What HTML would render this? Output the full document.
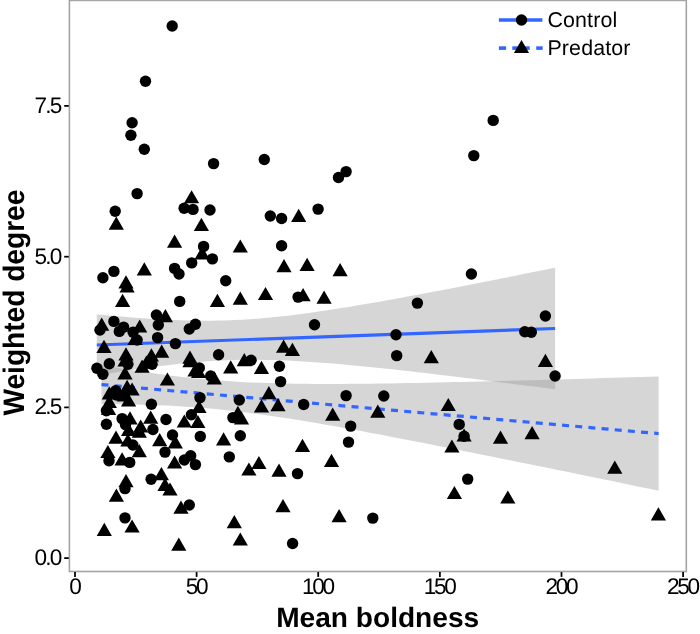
<!DOCTYPE html>
<html><head><meta charset="utf-8"><title>Weighted degree vs mean boldness</title>
<style>html,body{margin:0;padding:0;background:#fff}body{width:700px;height:634px;position:relative;overflow:hidden}</style></head>
<body>
<svg width="700" height="634" viewBox="0 0 700 634" text-rendering="geometricPrecision" style="position:absolute;left:0;top:0">
<rect width="700" height="634" fill="#fff"/>
<path d="M96.8,314.4 L104.4,315.1 L112.1,315.8 L119.7,316.5 L127.4,317.1 L135.0,317.7 L142.6,318.3 L150.3,318.8 L157.9,319.3 L165.5,319.7 L173.2,320.0 L180.8,320.3 L188.5,320.5 L196.1,320.7 L203.7,320.7 L211.4,320.7 L219.0,320.6 L226.7,320.4 L234.3,320.1 L241.9,319.7 L249.6,319.2 L257.2,318.7 L264.8,318.0 L272.5,317.3 L280.1,316.5 L287.8,315.7 L295.4,314.7 L303.0,313.7 L310.7,312.7 L318.3,311.6 L325.9,310.5 L333.6,309.3 L341.2,308.1 L348.9,306.9 L356.5,305.6 L364.1,304.3 L371.8,303.0 L379.4,301.7 L387.1,300.3 L394.7,298.9 L402.3,297.5 L410.0,296.1 L417.6,294.7 L425.2,293.3 L432.9,291.8 L440.5,290.4 L448.2,288.9 L455.8,287.4 L463.4,285.9 L471.1,284.4 L478.7,282.9 L486.4,281.4 L494.0,279.9 L501.6,278.4 L509.3,276.9 L516.9,275.4 L524.5,273.8 L532.2,272.3 L539.8,270.8 L547.5,269.2 L555.1,267.7 L555.1,389.3 L547.5,388.3 L539.8,387.3 L532.2,386.3 L524.5,385.4 L516.9,384.4 L509.3,383.4 L501.6,382.4 L494.0,381.5 L486.4,380.5 L478.7,379.6 L471.1,378.6 L463.4,377.7 L455.8,376.7 L448.2,375.8 L440.5,374.9 L432.9,374.0 L425.2,373.1 L417.6,372.2 L410.0,371.3 L402.3,370.5 L394.7,369.6 L387.1,368.8 L379.4,368.0 L371.8,367.2 L364.1,366.4 L356.5,365.7 L348.9,365.0 L341.2,364.3 L333.6,363.6 L325.9,363.0 L318.3,362.4 L310.7,361.9 L303.0,361.4 L295.4,361.0 L287.8,360.6 L280.1,360.3 L272.5,360.0 L264.8,359.9 L257.2,359.8 L249.6,359.8 L241.9,359.8 L234.3,360.0 L226.7,360.3 L219.0,360.6 L211.4,361.0 L203.7,361.6 L196.1,362.2 L188.5,362.9 L180.8,363.6 L173.2,364.5 L165.5,365.4 L157.9,366.3 L150.3,367.3 L142.6,368.4 L135.0,369.5 L127.4,370.7 L119.7,371.8 L112.1,373.1 L104.4,374.3 L96.8,375.6Z" fill="#999" fill-opacity="0.4"/>
<path d="M101.5,365.1 L110.8,366.6 L120.1,368.2 L129.4,369.7 L138.6,371.1 L147.9,372.5 L157.2,373.8 L166.5,375.0 L175.8,376.2 L185.1,377.2 L194.3,378.2 L203.6,379.1 L212.9,380.0 L222.2,380.7 L231.5,381.3 L240.8,381.9 L250.1,382.4 L259.3,382.8 L268.6,383.1 L277.9,383.3 L287.2,383.6 L296.5,383.7 L305.8,383.8 L315.1,383.9 L324.3,383.9 L333.6,383.9 L342.9,383.9 L352.2,383.8 L361.5,383.8 L370.8,383.7 L380.1,383.5 L389.3,383.4 L398.6,383.3 L407.9,383.1 L417.2,382.9 L426.5,382.7 L435.8,382.5 L445.0,382.3 L454.3,382.1 L463.6,381.9 L472.9,381.7 L482.2,381.5 L491.5,381.2 L500.8,381.0 L510.0,380.7 L519.3,380.5 L528.6,380.2 L537.9,380.0 L547.2,379.7 L556.5,379.5 L565.8,379.2 L575.0,378.9 L584.3,378.7 L593.6,378.4 L602.9,378.1 L612.2,377.8 L621.5,377.5 L630.7,377.3 L640.0,377.0 L649.3,376.7 L658.6,376.4 L658.6,490.7 L649.3,488.8 L640.0,486.9 L630.7,485.0 L621.5,483.1 L612.2,481.1 L602.9,479.2 L593.6,477.3 L584.3,475.4 L575.0,473.5 L565.8,471.6 L556.5,469.7 L547.2,467.8 L537.9,465.9 L528.6,464.0 L519.3,462.2 L510.0,460.3 L500.8,458.4 L491.5,456.5 L482.2,454.7 L472.9,452.8 L463.6,450.9 L454.3,449.1 L445.0,447.2 L435.8,445.4 L426.5,443.6 L417.2,441.8 L407.9,440.0 L398.6,438.2 L389.3,436.4 L380.1,434.6 L370.8,432.9 L361.5,431.1 L352.2,429.4 L342.9,427.7 L333.6,426.1 L324.3,424.4 L315.1,422.8 L305.8,421.3 L296.5,419.8 L287.2,418.3 L277.9,416.9 L268.6,415.5 L259.3,414.2 L250.1,413.0 L240.8,411.8 L231.5,410.7 L222.2,409.7 L212.9,408.8 L203.6,408.0 L194.3,407.3 L185.1,406.7 L175.8,406.1 L166.5,405.6 L157.2,405.2 L147.9,404.9 L138.6,404.6 L129.4,404.4 L120.1,404.3 L110.8,404.2 L101.5,404.1Z" fill="#999" fill-opacity="0.4"/>
<line x1="96.8" y1="345.0" x2="555.1" y2="328.5" stroke="#3366ff" stroke-width="3.2"/>
<line x1="101.5" y1="384.6" x2="658.6" y2="433.6" stroke="#3366ff" stroke-width="3.2" stroke-dasharray="7 6.21"/>
<g fill="#000">
<circle cx="172.2" cy="26.0" r="5.7"/>
<circle cx="145.5" cy="81.3" r="5.7"/>
<circle cx="132.1" cy="122.8" r="5.7"/>
<circle cx="130.9" cy="135.2" r="5.7"/>
<circle cx="144.3" cy="149.3" r="5.7"/>
<circle cx="137.1" cy="193.6" r="5.7"/>
<circle cx="115.2" cy="211.3" r="5.7"/>
<circle cx="184.1" cy="208.2" r="5.7"/>
<circle cx="193.0" cy="209.4" r="5.7"/>
<circle cx="102.9" cy="277.7" r="5.7"/>
<circle cx="113.9" cy="271.4" r="5.7"/>
<circle cx="174.6" cy="268.4" r="5.7"/>
<circle cx="179.0" cy="274.0" r="5.7"/>
<circle cx="213.6" cy="163.6" r="5.7"/>
<circle cx="264.3" cy="159.5" r="5.7"/>
<circle cx="210.0" cy="210.0" r="5.7"/>
<circle cx="270.3" cy="216.0" r="5.7"/>
<circle cx="203.6" cy="246.4" r="5.7"/>
<circle cx="212.4" cy="258.9" r="5.7"/>
<circle cx="191.7" cy="262.9" r="5.7"/>
<circle cx="225.7" cy="280.7" r="5.7"/>
<circle cx="179.7" cy="301.4" r="5.7"/>
<circle cx="113.9" cy="321.4" r="5.7"/>
<circle cx="123.6" cy="327.1" r="5.7"/>
<circle cx="119.3" cy="331.4" r="5.7"/>
<circle cx="100.0" cy="330.0" r="5.7"/>
<circle cx="156.4" cy="315.0" r="5.7"/>
<circle cx="158.3" cy="325.0" r="5.7"/>
<circle cx="157.6" cy="337.6" r="5.7"/>
<circle cx="133.1" cy="332.1" r="5.7"/>
<circle cx="137.1" cy="340.0" r="5.7"/>
<circle cx="175.4" cy="343.6" r="5.7"/>
<circle cx="109.3" cy="363.8" r="5.7"/>
<circle cx="96.9" cy="368.3" r="5.7"/>
<circle cx="102.9" cy="374.3" r="5.7"/>
<circle cx="151.4" cy="404.3" r="5.7"/>
<circle cx="127.9" cy="364.3" r="5.7"/>
<circle cx="152.1" cy="364.3" r="5.7"/>
<circle cx="115.7" cy="390.7" r="5.7"/>
<circle cx="116.4" cy="395.0" r="5.7"/>
<circle cx="106.4" cy="424.3" r="5.7"/>
<circle cx="166.0" cy="419.5" r="5.7"/>
<circle cx="122.1" cy="418.6" r="5.7"/>
<circle cx="125.5" cy="424.6" r="5.7"/>
<circle cx="152.9" cy="429.5" r="5.7"/>
<circle cx="106.4" cy="410.7" r="5.7"/>
<circle cx="172.5" cy="435.0" r="5.7"/>
<circle cx="132.9" cy="445.0" r="5.7"/>
<circle cx="165.0" cy="452.1" r="5.7"/>
<circle cx="109.0" cy="460.7" r="5.7"/>
<circle cx="129.7" cy="462.4" r="5.7"/>
<circle cx="151.1" cy="479.2" r="5.7"/>
<circle cx="125.0" cy="488.6" r="5.7"/>
<circle cx="125.0" cy="517.9" r="5.7"/>
<circle cx="195.4" cy="324.3" r="5.7"/>
<circle cx="189.3" cy="329.0" r="5.7"/>
<circle cx="218.6" cy="354.7" r="5.7"/>
<circle cx="251.1" cy="360.3" r="5.7"/>
<circle cx="199.3" cy="367.9" r="5.7"/>
<circle cx="210.7" cy="376.0" r="5.7"/>
<circle cx="200.0" cy="397.6" r="5.7"/>
<circle cx="239.3" cy="400.0" r="5.7"/>
<circle cx="191.4" cy="414.7" r="5.7"/>
<circle cx="232.9" cy="417.6" r="5.7"/>
<circle cx="200.3" cy="436.4" r="5.7"/>
<circle cx="240.3" cy="435.7" r="5.7"/>
<circle cx="190.7" cy="455.7" r="5.7"/>
<circle cx="184.3" cy="460.0" r="5.7"/>
<circle cx="195.4" cy="464.6" r="5.7"/>
<circle cx="229.3" cy="456.9" r="5.7"/>
<circle cx="189.3" cy="505.0" r="5.7"/>
<circle cx="346.1" cy="171.6" r="5.7"/>
<circle cx="338.5" cy="177.5" r="5.7"/>
<circle cx="318.1" cy="209.1" r="5.7"/>
<circle cx="281.6" cy="218.5" r="5.7"/>
<circle cx="281.6" cy="245.7" r="5.7"/>
<circle cx="314.5" cy="324.7" r="5.7"/>
<circle cx="298.1" cy="297.1" r="5.7"/>
<circle cx="396.0" cy="334.7" r="5.7"/>
<circle cx="396.7" cy="355.6" r="5.7"/>
<circle cx="279.4" cy="366.3" r="5.7"/>
<circle cx="280.6" cy="381.6" r="5.7"/>
<circle cx="303.7" cy="404.5" r="5.7"/>
<circle cx="346.1" cy="395.6" r="5.7"/>
<circle cx="383.8" cy="396.0" r="5.7"/>
<circle cx="350.7" cy="426.1" r="5.7"/>
<circle cx="348.5" cy="442.1" r="5.7"/>
<circle cx="297.5" cy="473.6" r="5.7"/>
<circle cx="372.8" cy="518.1" r="5.7"/>
<circle cx="292.6" cy="543.5" r="5.7"/>
<circle cx="493.2" cy="120.4" r="5.7"/>
<circle cx="473.8" cy="155.6" r="5.7"/>
<circle cx="471.4" cy="274.0" r="5.7"/>
<circle cx="417.4" cy="303.1" r="5.7"/>
<circle cx="524.8" cy="331.8" r="5.7"/>
<circle cx="531.3" cy="332.3" r="5.7"/>
<circle cx="545.4" cy="316.0" r="5.7"/>
<circle cx="555.1" cy="376.0" r="5.7"/>
<circle cx="459.2" cy="424.4" r="5.7"/>
<circle cx="464.1" cy="436.3" r="5.7"/>
<circle cx="467.7" cy="479.1" r="5.7"/>
<path d="M191.6,190.2L199.2,203.3L184.0,203.3ZM116.3,216.6L123.9,229.7L108.7,229.7ZM174.6,234.6L182.2,247.7L167.0,247.7ZM144.3,262.2L151.9,275.4L136.7,275.4ZM126.0,275.2L133.6,288.4L118.4,288.4ZM127.1,279.4L134.7,292.6L119.5,292.6ZM201.4,217.8L209.0,231.0L193.8,231.0ZM240.3,239.4L247.9,252.6L232.7,252.6ZM202.1,246.2L209.7,259.4L194.5,259.4ZM217.4,293.8L225.0,306.9L209.8,306.9ZM240.3,291.6L247.9,304.7L232.7,304.7ZM265.5,286.9L273.1,300.0L257.9,300.0ZM122.6,293.8L130.2,306.9L115.0,306.9ZM101.7,317.6L109.3,330.8L94.1,330.8ZM139.7,319.4L147.3,332.6L132.1,332.6ZM165.4,309.1L173.0,322.3L157.8,322.3ZM135.0,331.8L142.6,344.9L127.4,344.9ZM104.0,339.8L111.6,352.9L96.4,352.9ZM126.0,347.2L133.6,360.4L118.4,360.4ZM151.4,348.2L159.0,361.4L143.8,361.4ZM161.7,344.6L169.3,357.7L154.1,357.7ZM125.0,353.4L132.6,366.6L117.4,366.6ZM125.0,366.2L132.6,379.4L117.4,379.4ZM142.1,359.6L149.7,372.7L134.5,372.7ZM146.4,355.6L154.0,368.7L138.8,368.7ZM167.4,372.4L175.0,385.6L159.8,385.6ZM127.1,379.8L134.7,392.9L119.5,392.9ZM132.1,382.4L139.7,395.6L124.5,395.6ZM109.3,386.2L116.9,399.4L101.7,399.4ZM128.6,393.4L136.2,406.6L121.0,406.6ZM124.3,388.4L131.9,401.6L116.7,401.6ZM109.3,394.9L116.9,408.0L101.7,408.0ZM108.6,401.9L116.2,415.1L101.0,415.1ZM130.0,411.2L137.6,424.4L122.4,424.4ZM150.7,410.6L158.3,423.7L143.1,423.7ZM140.7,419.4L148.3,432.6L133.1,432.6ZM128.6,422.8L136.2,435.9L121.0,435.9ZM139.3,424.6L146.9,437.7L131.7,437.7ZM116.0,430.6L123.6,443.7L108.4,443.7ZM127.9,433.4L135.5,446.6L120.3,446.6ZM159.7,433.1L167.3,446.3L152.1,446.3ZM175.3,435.2L182.9,448.4L167.7,448.4ZM107.9,444.9L115.5,458.0L100.3,458.0ZM139.3,444.1L146.9,457.3L131.7,457.3ZM122.1,452.2L129.7,465.4L114.5,465.4ZM174.6,455.4L182.2,468.6L167.0,468.6ZM161.4,467.1L169.0,480.2L153.8,480.2ZM126.0,474.1L133.6,487.3L118.4,487.3ZM165.0,477.8L172.6,490.9L157.4,490.9ZM170.0,482.4L177.6,495.6L162.4,495.6ZM116.4,488.6L124.0,501.8L108.8,501.8ZM181.0,500.6L188.6,513.7L173.4,513.7ZM132.1,519.5L139.7,532.6L124.5,532.6ZM104.3,522.8L111.9,535.9L96.7,535.9ZM178.8,537.5L186.4,550.7L171.2,550.7ZM190.0,350.6L197.6,363.7L182.4,363.7ZM190.0,354.1L197.6,367.3L182.4,367.3ZM244.3,353.1L251.9,366.2L236.7,366.2ZM230.7,360.2L238.3,373.4L223.1,373.4ZM261.5,360.8L269.1,373.9L253.9,373.9ZM195.0,363.4L202.6,376.6L187.4,376.6ZM198.6,364.9L206.2,378.0L191.0,378.0ZM214.3,371.2L221.9,384.4L206.7,384.4ZM199.0,399.9L206.6,413.0L191.4,413.0ZM184.3,414.4L191.9,427.6L176.7,427.6ZM197.9,414.9L205.5,428.0L190.3,428.0ZM241.5,411.2L249.1,424.4L233.9,424.4ZM237.9,405.8L245.5,418.9L230.3,418.9ZM261.5,399.2L269.1,412.4L253.9,412.4ZM268.9,386.1L276.5,399.2L261.3,399.2ZM223.6,432.2L231.2,445.4L216.0,445.4ZM258.9,455.9L266.5,469.1L251.3,469.1ZM248.9,462.4L256.5,475.6L241.3,475.6ZM234.3,515.1L241.9,528.3L226.7,528.3ZM240.3,532.5L247.9,545.6L232.7,545.6ZM298.7,208.8L306.3,221.9L291.1,221.9ZM284.0,259.1L291.6,272.2L276.4,272.2ZM307.1,257.8L314.7,270.9L299.5,270.9ZM340.1,263.1L347.7,276.2L332.5,276.2ZM303.1,288.1L310.7,301.2L295.5,301.2ZM324.1,290.6L331.7,303.8L316.5,303.8ZM283.6,339.6L291.2,352.7L276.0,352.7ZM292.4,342.8L300.0,355.9L284.8,355.9ZM278.0,398.1L285.6,411.2L270.4,411.2ZM332.7,407.6L340.3,420.8L325.1,420.8ZM377.8,404.6L385.4,417.8L370.2,417.8ZM302.5,438.8L310.1,451.9L294.9,451.9ZM331.5,453.8L339.1,466.9L323.9,466.9ZM279.0,463.6L286.6,476.8L271.4,476.8ZM283.0,499.1L290.6,512.2L275.4,512.2ZM339.1,509.0L346.7,522.2L331.5,522.2ZM431.3,350.1L438.9,363.3L423.7,363.3ZM545.4,353.8L553.0,366.9L537.8,366.9ZM448.3,397.9L455.9,411.0L440.7,411.0ZM464.1,428.4L471.7,441.6L456.5,441.6ZM451.9,439.4L459.5,452.5L444.3,452.5ZM500.5,430.6L508.1,443.8L492.9,443.8ZM532.1,426.1L539.7,439.2L524.5,439.2ZM454.4,485.9L462.0,499.1L446.8,499.1ZM507.8,490.4L515.4,503.5L500.2,503.5ZM614.8,460.6L622.4,473.8L607.2,473.8ZM658.4,507.2L666.0,520.4L650.8,520.4Z"/>
</g>
<rect x="69.4" y="0.4" width="616.9" height="571.1" fill="none" stroke="#a4a4a4" stroke-width="1.6"/>
<g stroke="#000" stroke-width="1.75">
<line x1="75.0" y1="572.1" x2="75.0" y2="576.9"/>
<line x1="196.6" y1="572.1" x2="196.6" y2="576.9"/>
<line x1="318.2" y1="572.1" x2="318.2" y2="576.9"/>
<line x1="439.9" y1="572.1" x2="439.9" y2="576.9"/>
<line x1="561.5" y1="572.1" x2="561.5" y2="576.9"/>
<line x1="683.1" y1="572.1" x2="683.1" y2="576.9"/>
<line x1="64.2" y1="558.1" x2="68.8" y2="558.1"/>
<line x1="64.2" y1="407.4" x2="68.8" y2="407.4"/>
<line x1="64.2" y1="256.7" x2="68.8" y2="256.7"/>
<line x1="64.2" y1="105.9" x2="68.8" y2="105.9"/>
</g>
<g font-family="'Liberation Sans', Arial, sans-serif" font-size="22.6" fill="#000">
<text x="74.3" y="593.9" text-anchor="middle" letter-spacing="-2.3">0</text>
<text x="195.9" y="593.9" text-anchor="middle" letter-spacing="-2.3">50</text>
<text x="317.5" y="593.9" text-anchor="middle" letter-spacing="-2.3">100</text>
<text x="439.2" y="593.9" text-anchor="middle" letter-spacing="-2.3">150</text>
<text x="560.8" y="593.9" text-anchor="middle" letter-spacing="-2.3">200</text>
<text x="682.4" y="593.9" text-anchor="middle" letter-spacing="-2.3">250</text>
<text x="60.5" y="564.9" text-anchor="end" letter-spacing="-1.8">0.0</text>
<text x="60.5" y="414.2" text-anchor="end" letter-spacing="-1.8">2.5</text>
<text x="60.5" y="263.5" text-anchor="end" letter-spacing="-1.8">5.0</text>
<text x="60.5" y="112.7" text-anchor="end" letter-spacing="-1.8">7.5</text>
</g>
<g font-family="'Liberation Sans', Arial, sans-serif" font-weight="bold" font-size="28.1" fill="#000">
<text x="377.7" y="627.3" text-anchor="middle">Mean boldness</text>
<text transform="translate(24.1,302.6) rotate(-90) scale(1,1.055)" text-anchor="middle">Weighted degree</text>
</g>
<line x1="498.9" y1="20" x2="542.4" y2="20" stroke="#3366ff" stroke-width="3.6"/>
<line x1="498.9" y1="48.1" x2="506.1" y2="48.1" stroke="#3366ff" stroke-width="3.6"/>
<line x1="512.3" y1="48.1" x2="518" y2="48.1" stroke="#3366ff" stroke-width="3.6"/>
<line x1="524" y1="48.1" x2="529.7" y2="48.1" stroke="#3366ff" stroke-width="3.6"/>
<line x1="536.2" y1="48.1" x2="542.7" y2="48.1" stroke="#3366ff" stroke-width="3.6"/>
<circle cx="521.5" cy="20" r="5.7" fill="#000"/>
<path d="M521.5,39.9L529.1,53.0L513.9,53.0Z" fill="#000"/>
<g font-family="'Liberation Sans', Arial, sans-serif" font-size="21.4" fill="#000">
<text x="547.4" y="27.3" letter-spacing="0.15">Control</text>
<text x="547.4" y="55.2" letter-spacing="0.15">Predator</text>
</g>
</svg>
</body></html>
